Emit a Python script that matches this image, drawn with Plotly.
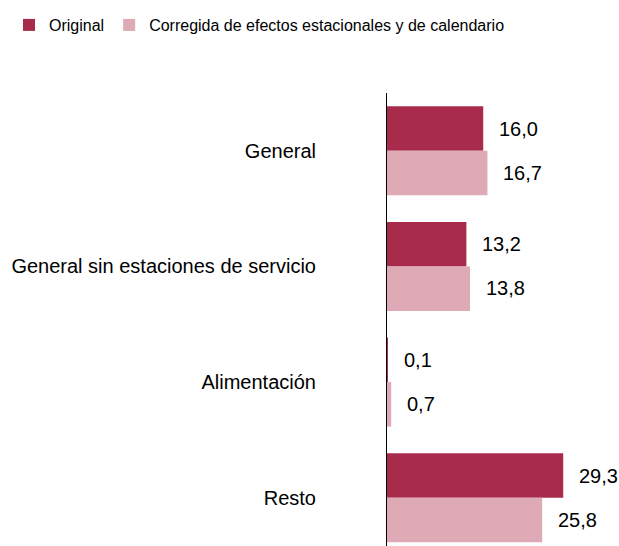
import plotly.graph_objects as go

categories = ["General", "General sin estaciones de servicio", "Alimentación", "Resto"]
original = [16.0, 13.2, 0.1, 29.3]
corregida = [16.7, 13.8, 0.7, 25.8]
series_names = ["Original", "Corregida de efectos estacionales y de calendario"]

C_ORIG = "#A82B4B"
C_CORR = "#DDAAB5"
FONT = "Liberation Sans, Arial, sans-serif"

fig = go.Figure()
fig.add_trace(go.Bar(y=categories, x=original, orientation="h", name=series_names[0],
                     marker=dict(color=C_ORIG, line=dict(width=0))))
fig.add_trace(go.Bar(y=categories, x=corregida, orientation="h", name=series_names[1],
                     marker=dict(color=C_CORR, line=dict(width=0))))

def fmt(v):
    return f"{v:.1f}".replace(".", ",")

annotations = []
for cat, vo, vc in zip(categories, original, corregida):
    annotations.append(dict(x=vo, y=cat, xref="x", yref="y", text=fmt(vo), showarrow=False,
                            xanchor="left", yanchor="middle", xshift=14, yshift=22,
                            font=dict(size=20, color="#000000", family=FONT)))
    annotations.append(dict(x=vc, y=cat, xref="x", yref="y", text=fmt(vc), showarrow=False,
                            xanchor="left", yanchor="middle", xshift=14, yshift=-22,
                            font=dict(size=20, color="#000000", family=FONT)))

L, R, T, B = 387, 2, 93, 0
W, H = 619, 546
PW, PH = W - L - R, H - T - B

fig.update_layout(
    width=W, height=H,
    margin=dict(l=L, r=R, t=T, b=B, pad=0, autoexpand=False),
    paper_bgcolor="white", plot_bgcolor="white",
    barmode="group", bargap=0.23, bargroupgap=0,
    font=dict(family=FONT, size=20, color="#000000"),
    showlegend=True,
    legend=dict(orientation="h", xref="paper", yref="paper",
                x=(9 - L) / PW, y=1 + (T - 25) / PH, xanchor="left", yanchor="middle",
                font=dict(size=16, family=FONT, color="#000000"),
                itemclick=False, itemdoubleclick=False),
    annotations=annotations,
    xaxis=dict(range=[0, 38.24], visible=False, showgrid=False, zeroline=False, fixedrange=True),
    yaxis=dict(range=[3.418, -0.5], showline=True, linecolor="#000000", linewidth=1,
               showgrid=False, zeroline=False, ticks="", ticklabelstandoff=66,
               tickfont=dict(size=20, family=FONT, color="#000000"), fixedrange=True),
)

fig.write_html("out.html", config={"displayModeBar": False},
               post_script="document.body.style.margin='0';document.body.style.overflow='hidden';")
